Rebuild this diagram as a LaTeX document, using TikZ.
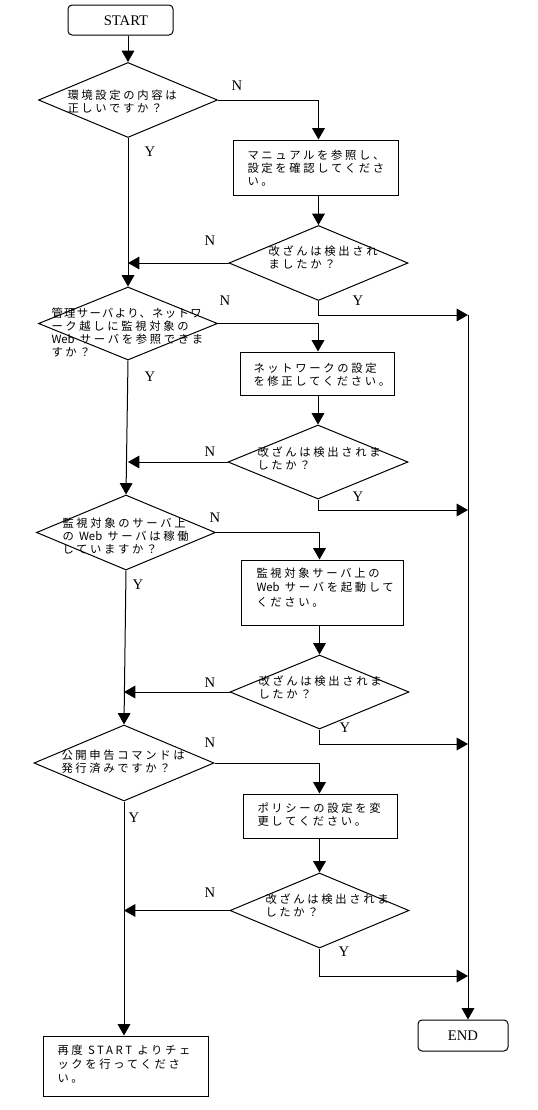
\documentclass[tikz,border=0pt]{standalone}
\usepackage{fontspec}
\setmainfont{Liberation Serif}
\newfontfamily\jpf[LetterSpace=23.5]{Noto Sans CJK JP}
\newfontfamily\jpn[LetterSpace=12]{Noto Sans CJK JP}
\newfontfamily\jpz{Noto Sans CJK JP}
\usetikzlibrary{shapes.geometric,arrows.meta}
\begin{document}
\begin{tikzpicture}[x=0.75pt,y=-0.75pt,
 line width=0.75pt,
 arr/.style={-{Triangle[length=8.5pt,width=9.5pt]}},
 dia/.style={draw,diamond,inner sep=0pt,minimum width=134.25pt,minimum height=56.25pt},
 box/.style={draw,rectangle,inner sep=0pt},
 term/.style={draw,rectangle,rounded corners=3pt,inner sep=0pt},
 jtxt/.style={anchor=north west,inner sep=0pt,align=left,font={\fontsize{8.5pt}{9.75pt}\jpf}},
 lbl/.style={inner sep=0pt,font={\fontsize{11pt}{13pt}\selectfont}}]
\useasboundingbox (0,0) rectangle (537,1110);

% terminals
\node[term,minimum width=78.75pt,minimum height=22.5pt] (start) at (120.5,20) {};
\node[lbl] (tstart) at (126,21) {START};
\node[term,minimum width=67.5pt,minimum height=23.25pt,font={\fontsize{11pt}{13pt}\selectfont}] (end) at (463,1035.5) {END};

% decisions
\node[dia] (d1) at (128,100) {};
\node[dia] (d2) at (318.5,263) {};
\node[dia,minimum height=54.75pt] (d3) at (128,323.5) {};
\node[dia,minimum width=135pt,minimum height=55.5pt] (d4) at (318,462) {};
\node[dia] (d5) at (126,532.5) {};
\node[dia,minimum height=55.5pt] (d6) at (319.5,692) {};
\node[dia,minimum width=135pt,minimum height=57pt] (d7) at (124,763) {};
\node[dia] (d8) at (319.5,910.5) {};

% process boxes
\node[box,minimum width=123.75pt,minimum height=41.25pt] (b1) at (315.5,167.5) {};
\node[box,minimum width=115.5pt,minimum height=32.25pt] (b2) at (317,373.5) {};
\node[box,minimum width=121.5pt,minimum height=48.75pt] (b3) at (322,592.5) {};
\node[box,minimum width=115.5pt,minimum height=33pt] (b4) at (320,816) {};
\node[box,minimum width=123.75pt,minimum height=45pt] (b5) at (125.5,1066) {};

% texts
\node[jtxt] (t1) at (67,89) {環境設定の内容は\\正しいですか？};
\node[jtxt] (tb1) at (247,149) {マニュアルを参照し、\\設定を確認してくださ\\い。};
\node[jtxt] (t2) at (268,245) {改ざんは検出され\\ましたか？};
\node[jtxt] (t3) at (51,307) {{\jpn 管理サーバより、ネットワ}\\ーク越しに監視対象の\\{\jpz Web} サーバを参照できま\\すか？};
\node[jtxt] (tb2) at (253,362) {ネットワークの設定\\を修正してください。};
\node[jtxt] (t4) at (257,446) {改ざんは検出されま\\したか？};
\node[jtxt] (t5) at (62,517) {監視対象のサーバ上\\の {\jpz Web} サーバは稼働\\していますか？};
\node[jtxt,font={\fontsize{8.5pt}{10.9pt}\jpf}] (tb3) at (256,567) {監視対象サーバ上の\\{\jpz Web} サーバを起動して\\ください。};
\node[jtxt] (t6) at (258,675) {改ざんは検出されま\\したか？};
\node[jtxt] (t7) at (61,749) {公開申告コマンドは\\発行済みですか？};
\node[jtxt] (tb4) at (257,802) {ポリシーの設定を変\\更してください。};
\node[jtxt] (t8) at (265,893) {改ざんは検出されま\\したか？};
\node[jtxt,font={\fontsize{8.5pt}{10.5pt}\jpf}] (tb5) at (57,1044) {再度 START よりチェ\\ックを行ってくださ\\い。};

% branch labels
\node[lbl] (n1) at (237,86) {N};
\node[lbl] (y1) at (150,152) {Y};
\node[lbl] (n2) at (210,241) {N};
\node[lbl] (y2) at (358,301) {Y};
\node[lbl] (n3) at (225,301) {N};
\node[lbl] (y3) at (150,377) {Y};
\node[lbl] (n4) at (210,452) {N};
\node[lbl] (y4) at (358,497) {Y};
\node[lbl] (n5) at (215,518) {N};
\node[lbl] (y5) at (138,585) {Y};
\node[lbl] (n6) at (210,683) {N};
\node[lbl] (y6) at (345,728) {Y};
\node[lbl] (n7) at (210,743) {N};
\node[lbl] (y7) at (134,818) {Y};
\node[lbl] (n8) at (210,893) {N};
\node[lbl] (y8) at (344,952) {Y};

% right collector
\coordinate (r1) at (468,315);
\coordinate (r2) at (468,510);
\coordinate (r3) at (468,744);
\coordinate (r4) at (468,976);

% connectors
\draw[arr] (start.south -| d1.north) -- (d1.north);
\draw[arr] (d1.east) -| (b1.north -| d2.north);
\draw[arr] (b1.south -| d2.north) -- (d2.north);
\draw[arr] (d2.west) -- (d2.west -| d1.south);
\draw[arr] (d2.south) |- (r1);
\draw[arr] (d1.south) -- (d3.north);

\draw[arr] (d3.east) -| (b2.north -| d4.north);
\draw[arr] (b2.south -| d4.north) -- (d4.north);
\draw[arr] (d4.west) -- (d4.west -| d3.south);
\draw[arr] (d4.south) |- (r2);
\draw[arr] (d3.south) -- (d5.north);

\draw[arr] (d5.east) -| (b3.north -| d6.north);
\draw[arr] (b3.south -| d6.north) -- (d6.north);
\draw[arr] (d6.west) -- (d6.west -| d7.north);
\draw[arr] (d6.south) |- (r3);
\draw[arr] (d5.south) -- (d7.north);

\draw[arr] (d7.east) -| (b4.north -| d8.north);
\draw[arr] (b4.south -| d8.north) -- (d8.north);
\draw[arr] (d8.west) -- (d8.west -| d7.south);
\draw[arr] (d8.south) |- (r4);
\draw[arr] (d7.south) -- (d7.south |- b5.north);

\draw[arr] (r1) -- (r1 |- end.north);
\end{tikzpicture}
\end{document}
